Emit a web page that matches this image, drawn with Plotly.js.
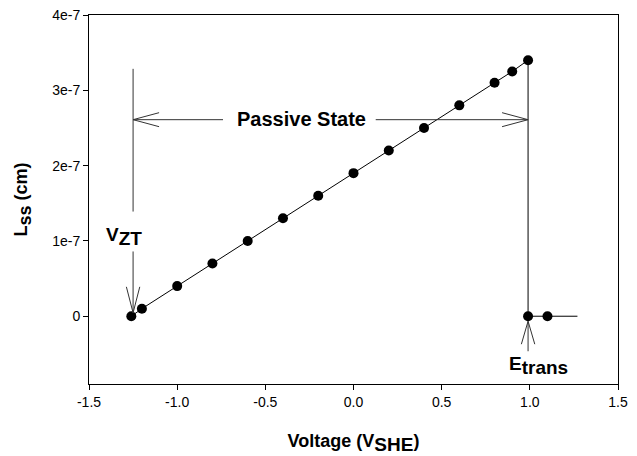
<!DOCTYPE html>
<html>
<head>
<meta charset="utf-8">
<script src="https://cdn.plot.ly/plotly-3.0.1.min.js"></script>
<style>html,body{margin:0;padding:0;background:#fff;}</style>
</head>
<body>
<div id="chart" style="width:637px;height:456px;"></div>
<script>
// Steady-state passive film thickness L_ss against applied potential
const voltage = [-1.26, -1.2, -1.0, -0.8, -0.6, -0.4, -0.2, 0.0, 0.2, 0.4, 0.6, 0.8, 0.9, 0.99, 0.99, 1.1, 1.27];
const lss     = [0, 1e-8, 4e-8, 7e-8, 1.0e-7, 1.3e-7, 1.6e-7, 1.9e-7, 2.2e-7, 2.5e-7, 2.8e-7, 3.1e-7, 3.25e-7, 3.4e-7, 0, 0, 0];
// the final entry only extends the line, it carries no symbol
const measured = [true, true, true, true, true, true, true, true, true, true, true, true, true, true, true, true, false];

const xTickVals = [-1.5, -1.0, -0.5, 0.0, 0.5, 1.0, 1.5];
const xTickText = ['-1.5', '-1.0', '-0.5', '0.0', '0.5', '1.0', '1.5'];
const yTickVals = [0, 1e-7, 2e-7, 3e-7, 4e-7];
const yTickText = ['0', '1e-7', '2e-7', '3e-7', '4e-7'];

// key potentials marked on the plot
const vZT = -1.25;      // zero-thickness potential
const eTrans = 0.99;    // transpassive potential
const passiveY = 2.61e-7;

const W = 637, H = 456;
const M = {l: 89, r: 19, t: 15, b: 72};
const xRange = [-1.5, 1.5];
const yRange = [-0.9e-7, 4e-7];
const pxX = (W - M.l - M.r) / (xRange[1] - xRange[0]);
const pxY = (H - M.t - M.b) / (yRange[1] - yRange[0]);
const dX = p => p / pxX;
const dY = p => p / pxY;

const FONT = 'Liberation Sans, Arial, Helvetica, sans-serif';
const INK = '#000';
const GUIDE = '#333';

function seg(x0, y0, x1, y1) {
  return {type: 'line', xref: 'x', yref: 'y', x0, y0, x1, y1,
          line: {color: GUIDE, width: 1}};
}
// open "V" arrowhead, tip at (x,y), pointing in direction dir
function head(x, y, dir, len, half) {
  const out = [];
  if (dir === 'left' || dir === 'right') {
    const s = dir === 'left' ? 1 : -1;
    out.push(seg(x + s * dX(len), y + dY(half), x, y));
    out.push(seg(x + s * dX(len), y - dY(half), x, y));
  } else {
    const s = dir === 'down' ? 1 : -1;
    out.push(seg(x - dX(half), y + s * dY(len), x, y));
    out.push(seg(x + dX(half), y + s * dY(len), x, y));
  }
  return out;
}

const lineTrace = {
  x: voltage, y: lss, type: 'scatter', mode: 'lines',
  line: {color: INK, width: 1}, hoverinfo: 'skip', showlegend: false
};
const pointTrace = {
  x: voltage.filter((v, i) => measured[i]),
  y: lss.filter((v, i) => measured[i]),
  type: 'scatter', mode: 'markers',
  marker: {color: INK, size: 10, symbol: 'circle'},
  showlegend: false
};

const shapes = [
  // V_ZT guide: vertical line, broken by its label, ending in a down arrow
  seg(vZT, 3.285e-7, vZT, 1.39e-7),
  seg(vZT, 0.86e-7, vZT, 0.045e-7),
  ...head(vZT, 0.045e-7, 'down', 26, 6.7),
  // passive range: double arrow between V_ZT and E_trans
  seg(vZT, passiveY, -0.74, passiveY),
  seg(0.126, passiveY, eTrans, passiveY),
  ...head(vZT, passiveY, 'left', 26, 7),
  ...head(eTrans, passiveY, 'right', 26, 7),
  // E_trans pointer
  seg(eTrans, -0.066e-7, eTrans, -0.465e-7),
  ...head(eTrans, -0.066e-7, 'up', 23, 6.7)
];

const annFont = {family: FONT, size: 19, color: INK};
const annotations = [
  {x: -0.295, y: passiveY, xref: 'x', yref: 'y', showarrow: false,
   text: '<b>Passive State</b>', font: {family: FONT, size: 20, color: INK},
   xanchor: 'center', yanchor: 'middle', yshift: 1},
  {x: -1.30, y: 1.06e-7, xref: 'x', yref: 'y', showarrow: false,
   text: '<b>V<sub><span style="font-size:19px">ZT</span></sub></b>', font: annFont,
   xanchor: 'center', yanchor: 'middle'},
  {x: 1.05, y: -0.65e-7, xref: 'x', yref: 'y', showarrow: false,
   text: '<b>E<sub><span style="font-size:19px">trans</span></sub></b>', font: annFont,
   xanchor: 'center', yanchor: 'middle'}
];

const axisCommon = {
  showline: true, mirror: true, linecolor: INK, linewidth: 1,
  ticks: 'outside', ticklen: 5, tickwidth: 1, tickcolor: INK,
  showgrid: false, zeroline: false,
  tickfont: {family: FONT, size: 14, color: INK}
};

const layout = {
  width: W, height: H,
  margin: M,
  paper_bgcolor: '#fff', plot_bgcolor: '#fff',
  font: {family: FONT, color: INK},
  showlegend: false,
  xaxis: Object.assign({}, axisCommon, {
    range: xRange, tickmode: 'array', tickvals: xTickVals, ticktext: xTickText,
    title: {text: '<b>Voltage (V<sub><span style="font-size:19px">SHE</span></sub>)</b>',
            font: {family: FONT, size: 18, color: INK}, standoff: 25}
  }),
  yaxis: Object.assign({}, axisCommon, {
    range: yRange, tickmode: 'array', tickvals: yTickVals, ticktext: yTickText,
    title: {text: '<b>L<sub><span style="font-size:18px">ss</span></sub> (cm)</b>',
            font: {family: FONT, size: 18, color: INK}, standoff: 19}
  }),
  shapes: shapes,
  annotations: annotations
};

Plotly.newPlot('chart', [lineTrace, pointTrace], layout, {staticPlot: true, displayModeBar: false});
</script>
</body>
</html>
